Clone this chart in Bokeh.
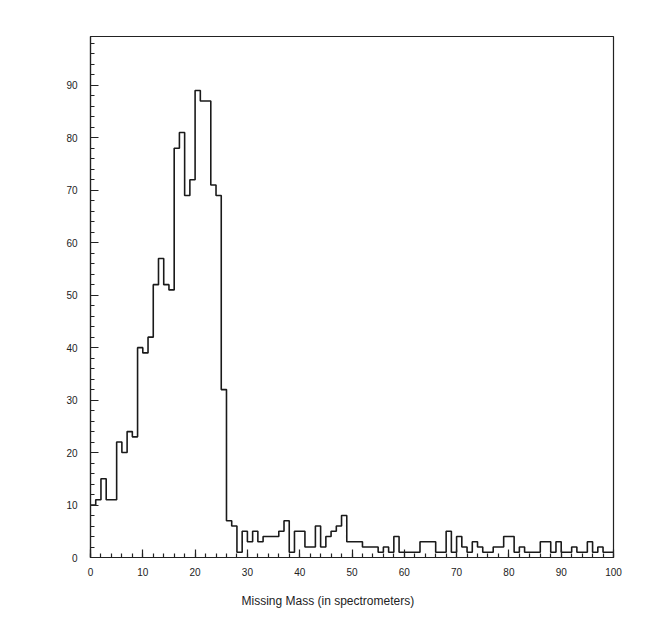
import numpy as np
from bokeh.plotting import figure
from bokeh.models import Range1d, Title, SingleIntervalTicker
from bokeh.embed import file_html
from bokeh.resources import INLINE

# Histogram: 100 bins of width 1 from 0 to 100
bin_edges = list(range(0, 101))
counts = [
    10, 11, 15, 11, 11, 22, 20, 24, 23, 40,
    39, 42, 52, 57, 52, 51, 78, 81, 69, 72,
    89, 87, 87, 71, 69, 32, 7, 6, 1, 5,
    3, 5, 3, 4, 4, 4, 5, 7, 1, 5,
    5, 2, 2, 6, 2, 4, 5, 6, 8, 3,
    3, 3, 2, 2, 2, 1, 2, 1, 4, 1,
    1, 1, 1, 3, 3, 3, 1, 1, 5, 1,
    4, 2, 1, 3, 2, 1, 1, 2, 2, 4,
    4, 1, 2, 1, 1, 1, 3, 3, 1, 3,
    1, 1, 2, 1, 1, 3, 1, 2, 1, 1,
]
x_title = "Missing Mass (in spectrometers)"

p = figure(width=660, height=625, output_backend="svg", toolbar_location=None,
           x_range=Range1d(0, 100), y_range=Range1d(0, 99.3),
           min_border_left=90, min_border_right=47, min_border_top=36, min_border_bottom=68)
p.frame_width = 523
p.frame_height = 521
p.background_fill_color = "white"
p.border_fill_color = "white"
p.outline_line_color = "#222222"
p.outline_line_width = 1.2
p.grid.visible = False

for ax in (p.xaxis[0], p.yaxis[0]):
    ax.major_tick_in = 8
    ax.major_tick_out = 0
    ax.minor_tick_in = 4
    ax.minor_tick_out = 0
    ax.major_tick_line_color = "#222222"
    ax.minor_tick_line_color = "#222222"
    ax.major_tick_line_width = 1.2
    ax.minor_tick_line_width = 1.2
    ax.axis_line_color = "#222222"
    ax.axis_line_width = 1.2
    ax.major_label_text_font = "Liberation Sans"
    ax.major_label_text_font_size = "10px"
    ax.major_label_text_color = "#222222"

p.xaxis[0].ticker = SingleIntervalTicker(interval=10, num_minor_ticks=5)
p.yaxis[0].ticker = SingleIntervalTicker(interval=10, num_minor_ticks=5)
p.xaxis[0].major_label_standoff = 10
p.yaxis[0].major_label_standoff = 13

step_x = bin_edges
step_y = counts + [counts[-1]]
p.step(x=step_x, y=step_y, mode="after", line_color="#1a1a1a", line_width=1.6)

t = Title(text=x_title, align="left", offset=151, standoff=27,
          text_font="Liberation Sans", text_font_size="12px", text_font_style="normal",
          text_color="#222222")
p.add_layout(t, "below")

open("out.html", "w").write(file_html(p, INLINE))
